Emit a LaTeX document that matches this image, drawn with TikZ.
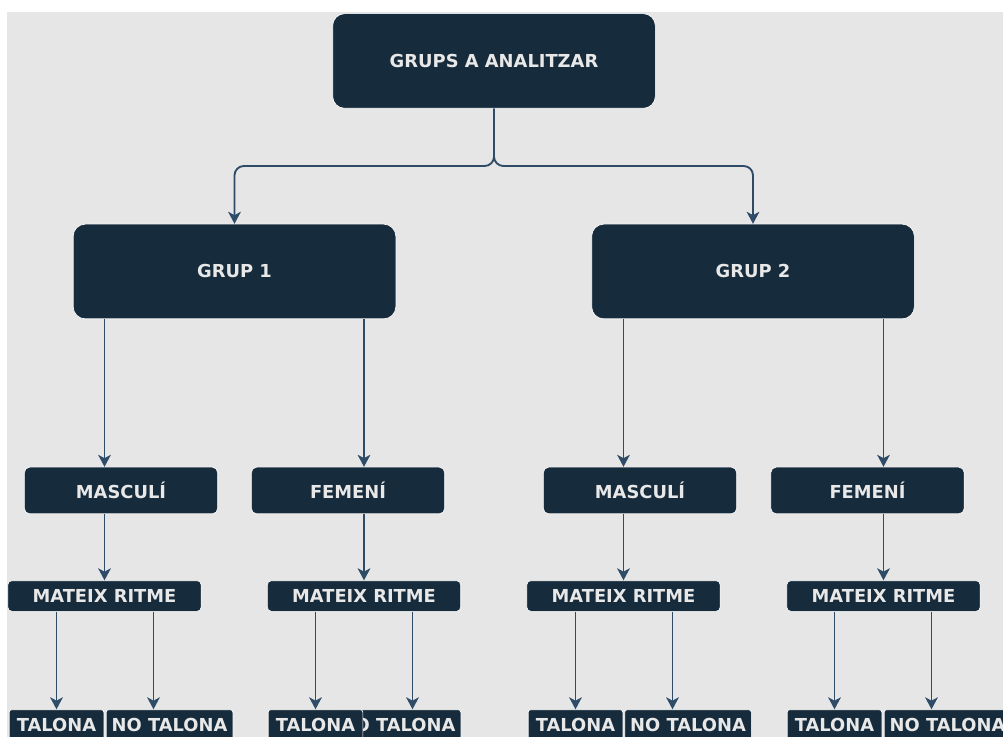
\documentclass[tikz,border=0pt]{standalone}
\usepackage{fontspec}
\setmainfont{DejaVu Sans}
\usetikzlibrary{arrows.meta,calc}

\definecolor{boxfill}{HTML}{162B3B}
\definecolor{linecol}{HTML}{2E4B67}
\definecolor{bgcol}{HTML}{E6E6E6}
\definecolor{txtcol}{HTML}{E8E8E8}

\tikzset{
	box/.style={fill=boxfill, draw=white, line width=0.5pt, text=txtcol, inner sep=0pt,
		font=\fontsize{13.4}{15}\selectfont\bfseries},
	bigbox/.style={box, rounded corners=9pt, minimum width=242pt, minimum height=71pt},
	sexbox/.style={box, rounded corners=4pt, minimum width=145pt, minimum height=35pt},
	ritbox/.style={box, rounded corners=3pt, minimum width=145pt, minimum height=23pt},
	talbox/.style={box, rounded corners=2pt, minimum width=71pt, minimum height=23pt},
	notalbox/.style={box, rounded corners=2pt, minimum width=95pt, minimum height=23pt},
	arr/.style={draw=linecol, line width=1.4pt, -{Stealth[length=9pt, width=9.5pt, inset=2.5pt]}}
}

\begin{document}
\begin{tikzpicture}[x=0.75pt, y=-0.75pt]
		\useasboundingbox (0,0) rectangle (1003,737);
		\clip (0,0) rectangle (1003,737);
		\fill[white] (0,0) rectangle (1003,737);
		\fill[bgcol] (7,12) rectangle (1003,737);
		
		% top and groups
		\node[bigbox] (top) at (494,61) {GRUPS A ANALITZAR};
		\node[bigbox] (grup1) at (234.5,271.5) {GRUP 1};
		\node[bigbox] (grup2) at (753,271.5) {GRUP 2};
		
		\node[sexbox] (masc1) at (121,490.5) {MASCULÍ};
		\node[sexbox] (fem1) at (348,490.5) {FEMENÍ};
		\node[sexbox] (masc2) at (640,490.5) {MASCULÍ};
		\node[sexbox] (fem2) at (867.5,490.5) {FEMENÍ};
		
		\node[ritbox] (mat1) at (104.5,596) {MATEIX RITME};
		\node[ritbox] (mat2) at (364,596) {MATEIX RITME};
		\node[ritbox] (mat3) at (623.5,596) {MATEIX RITME};
		\node[ritbox] (mat4) at (883.5,596) {MATEIX RITME};
		
		% leaves (no talona first, so talona lies on top)
		\node[notalbox] (notal1) at (169.5,725) {NO TALONA};
		\node[talbox] (tal1) at (56.5,725) {TALONA};
		\node[notalbox] (notal2) at (397.5,725) {NO TALONA};
		\node[talbox] (tal2) at (315.5,725) {TALONA};
		\node[notalbox] (notal3) at (688,725) {NO TALONA};
		\node[talbox] (tal3) at (575.5,725) {TALONA};
		\node[notalbox] (notal4) at (947.5,725) {NO TALONA};
		\node[talbox] (tal4) at (834.5,725) {TALONA};
		
		% connectors
		\coordinate (split) at (494,166);
		\draw[arr, rounded corners=7pt] (top.south) -- (split) -| (grup1.north);
		\draw[arr, rounded corners=7pt] (top.south) -- (split) -| (grup2.north);
		
		\foreach \g/\s/\m in {grup1/masc1/mat1, grup1/fem1/mat2, grup2/masc2/mat3, grup2/fem2/mat4} {
			\draw[arr] (\m |- \g.south) -- (\m |- \s.north);
			\draw[arr] (\m |- \s.south) -- (\m.north);
		}
		
		\foreach \m/\t in {mat1/tal1, mat2/tal2, mat3/tal3, mat4/tal4} {
			\draw[arr] (\t |- \m.south) -- (\t.north);
			\draw[arr] ($(\t |- \m.south)+(97,0)$) -- ($(\t.north)+(97,0)$);
		}
		\end{tikzpicture}
\end{document}
